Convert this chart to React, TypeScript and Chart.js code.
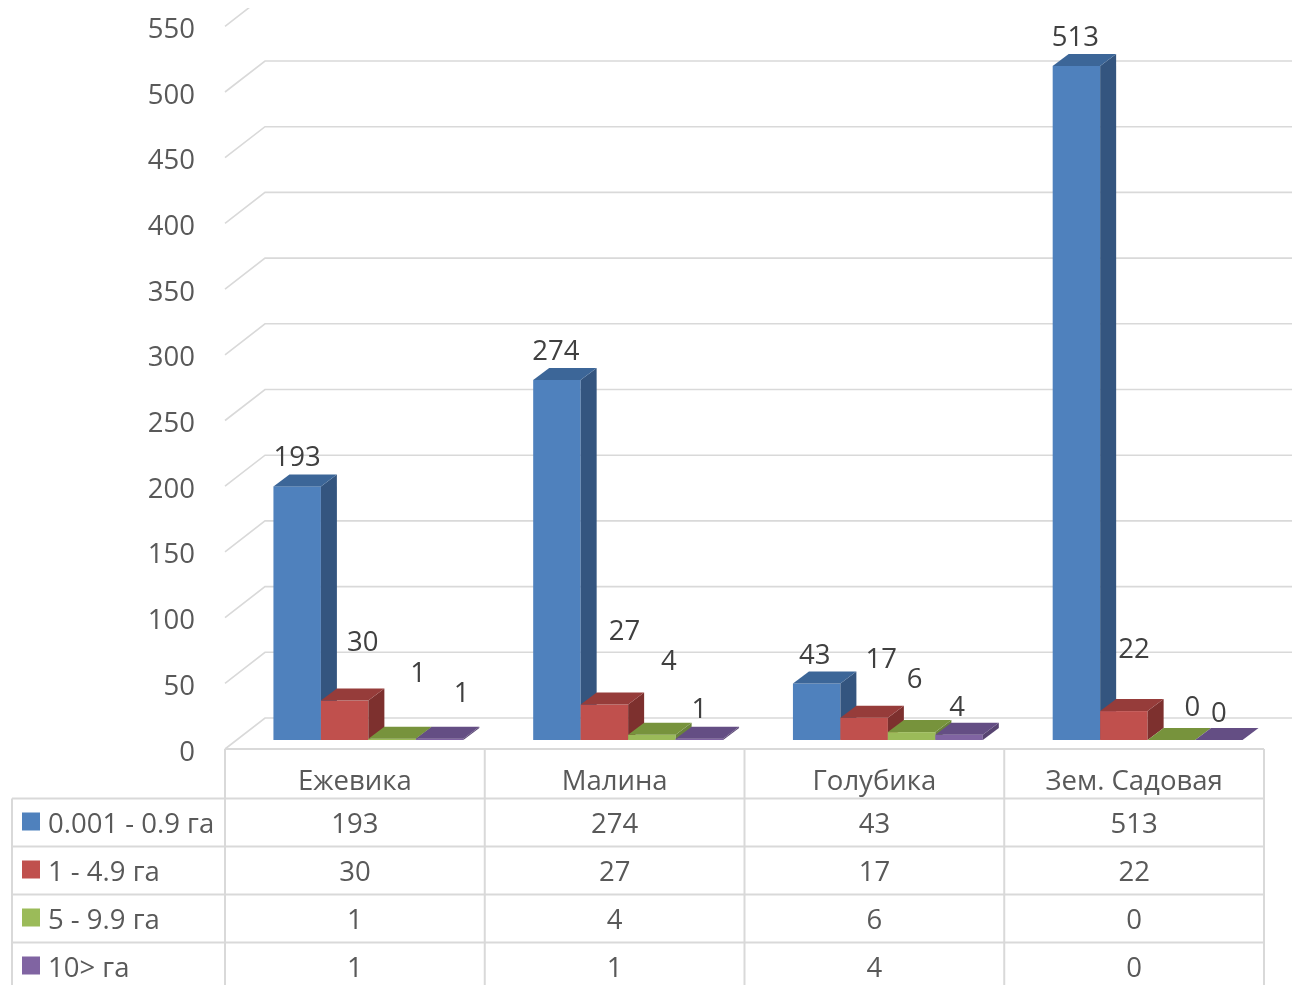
import React, { useEffect, useRef } from 'react';
import { Chart, registerables } from 'chart.js';

Chart.register(...registerables);

const categories = ['Ежевика', 'Малина', 'Голубика', 'Зем. Садовая'];
const seriesNames = ['0.001 - 0.9 га', '1 - 4.9 га', '5 - 9.9 га', '10> га'];
const seriesSmall = [193, 274, 43, 513];
const seriesMid = [30, 27, 17, 22];
const seriesLarge = [1, 4, 6, 0];
const seriesHuge = [1, 1, 4, 0];
const yTicks = [0, 50, 100, 150, 200, 250, 300, 350, 400, 450, 500, 550];

const frontColors = ['#4F81BD', '#C0504D', '#9BBB59', '#8064A2'];
const sideColors = ['#34557F', '#7D302E', '#6A833A', '#574471'];
const topColors = ['#3C6698', '#963C3A', '#77933C', '#644E84'];

// label nudges (px) relative to default anchor, per series / category
const labelNudge = [
  [[0, 0], [-1, 0], [-2, 1], [-1, 0]],
  [[18, -29], [20, -44], [17, -29], [10, -33]],
  [[26, -36], [17, -44], [3, -24], [21, -4]],
  [[22, -16], [0, 0], [-2, 2], [0, 2]],
];

const FONT = '27.5px "Open Sans"';
const WALL = { x: 40, y: -31 };
const BAR_SHIFT = { x: 13.5, y: -9 };
const BAR_DEPTH = { x: 16, y: -12 };

const threeD = {
  id: 'threeD',
  beforeDatasetsDraw(chart: any) {
    const ctx = chart.ctx as CanvasRenderingContext2D;
    const ys = chart.scales.y;
    const area = chart.chartArea;
    // gridlines (3D)
    ctx.save();
    ctx.beginPath();
    ctx.rect(0, 8, chart.width, chart.height);
    ctx.clip();
    ctx.strokeStyle = '#D9D9D9';
    ctx.lineWidth = 1.6;
    for (const v of yTicks) {
      const py = ys.getPixelForValue(v);
      ctx.beginPath();
      ctx.moveTo(area.left, py);
      ctx.lineTo(area.left + WALL.x, py + WALL.y);
      ctx.lineTo(chart.width + 20, py + WALL.y);
      ctx.stroke();
    }
    ctx.restore();

    // y tick labels
    ctx.save();
    ctx.font = FONT;
    ctx.fillStyle = '#595959';
    ctx.textAlign = 'right';
    ctx.textBaseline = 'alphabetic';
    for (const v of yTicks) {
      const py = ys.getPixelForValue(v);
      ctx.fillText(String(v), 195, py + 11.5);
    }
    ctx.restore();

    // bars
    const n = chart.data.datasets.length;
    for (let d = 0; d < n; d++) {
      const meta = chart.getDatasetMeta(d);
      meta.data.forEach((el: any) => {
        const p = el.getProps(['x', 'y', 'base', 'width'], true);
        const left = p.x - p.width / 2 + BAR_SHIFT.x;
        const right = left + p.width;
        const top = Math.min(p.y, p.base) + BAR_SHIFT.y;
        const bottom = Math.max(p.y, p.base) + BAR_SHIFT.y;
        ctx.fillStyle = frontColors[d];
        ctx.fillRect(left, top, p.width, bottom - top);
        ctx.fillStyle = sideColors[d];
        ctx.beginPath();
        ctx.moveTo(right, top);
        ctx.lineTo(right + BAR_DEPTH.x, top + BAR_DEPTH.y);
        ctx.lineTo(right + BAR_DEPTH.x, bottom + BAR_DEPTH.y);
        ctx.lineTo(right, bottom);
        ctx.closePath();
        ctx.fill();
        ctx.fillStyle = topColors[d];
        ctx.beginPath();
        ctx.moveTo(left, top);
        ctx.lineTo(right, top);
        ctx.lineTo(right + BAR_DEPTH.x, top + BAR_DEPTH.y);
        ctx.lineTo(left + BAR_DEPTH.x, top + BAR_DEPTH.y);
        ctx.closePath();
        ctx.fill();
      });
    }

    // data labels
    ctx.save();
    ctx.font = FONT;
    ctx.fillStyle = '#404040';
    ctx.textAlign = 'center';
    ctx.textBaseline = 'alphabetic';
    for (let d = 0; d < n; d++) {
      const meta = chart.getDatasetMeta(d);
      const vals = chart.data.datasets[d].data as number[];
      meta.data.forEach((el: any, i: number) => {
        const p = el.getProps(['x', 'y', 'base', 'width'], true);
        const cx = p.x + BAR_SHIFT.x + labelNudge[d][i][0];
        const cy = Math.min(p.y, p.base) + BAR_SHIFT.y - 30.2 + labelNudge[d][i][1];
        ctx.fillText(String(vals[i]), cx, cy + 9.8);
      });
    }
    ctx.restore();
    return false;
  },
  afterDraw(chart: any) {
    const ctx = chart.ctx as CanvasRenderingContext2D;
    const xs = chart.scales.x;
    const area = chart.chartArea;
    const catW = (area.right - area.left) / categories.length;
    const headTop = area.bottom;
    const headH = 49.5;
    const rowH = 48;
    const tableLeft = 12;
    ctx.save();
    ctx.strokeStyle = '#D9D9D9';
    ctx.lineWidth = 2;
    // horizontal lines
    ctx.beginPath();
    ctx.moveTo(area.left, headTop);
    ctx.lineTo(area.right, headTop);
    for (let r = 0; r < seriesNames.length; r++) {
      const y = headTop + headH + r * rowH;
      ctx.moveTo(tableLeft, y);
      ctx.lineTo(area.right, y);
    }
    // verticals
    ctx.moveTo(tableLeft, headTop + headH);
    ctx.lineTo(tableLeft, chart.height + 10);
    for (let k = 0; k <= categories.length; k++) {
      const x = area.left + k * catW;
      ctx.moveTo(x, headTop);
      ctx.lineTo(x, chart.height + 10);
    }
    ctx.stroke();

    ctx.font = FONT;
    ctx.fillStyle = '#595959';
    ctx.textAlign = 'center';
    ctx.textBaseline = 'alphabetic';
    categories.forEach((c, i) => {
      const x = xs.getPixelForValue(i);
      ctx.fillText(c, x, headTop + 41);
    });
    chart.data.datasets.forEach((ds: any, r: number) => {
      const rowTop = headTop + headH + r * rowH;
      (ds.data as number[]).forEach((v, i) => {
        const x = xs.getPixelForValue(i);
        ctx.fillText(String(v), x, rowTop + 34);
      });
      ctx.fillStyle = frontColors[r];
      ctx.fillRect(22, rowTop + 14, 18, 18);
      ctx.fillStyle = '#595959';
      ctx.textAlign = 'left';
      ctx.fillText(ds.label, 48, rowTop + 34);
      ctx.textAlign = 'center';
    });
    ctx.restore();
  },
};

export default function App() {
  const ref = useRef<HTMLCanvasElement>(null);
  useEffect(() => {
    const seriesData = [seriesSmall, seriesMid, seriesLarge, seriesHuge];
    const chart = new Chart(ref.current as HTMLCanvasElement, {
      type: 'bar',
      data: {
        labels: categories,
        datasets: seriesData.map((data, i) => ({
          label: seriesNames[i],
          data,
          backgroundColor: frontColors[i],
          borderWidth: 0,
          categoryPercentage: 0.731,
          barPercentage: 1,
        })),
      },
      options: {
        animation: false,
        responsive: false,
        devicePixelRatio: 1,
        layout: { padding: { left: 225, right: 28, top: 26.3, bottom: 236 } },
        plugins: { legend: { display: false }, tooltip: { enabled: false } },
        scales: {
          x: { type: 'category', display: false, offset: true },
          y: { type: 'linear', display: false, min: 0, max: 550, ticks: { stepSize: 50 } },
        },
      },
      plugins: [threeD],
    } as any);
    return () => chart.destroy();
  }, []);
  return (
    <div style={{ position: 'absolute', left: 0, top: 0, width: 1292, height: 985, background: '#fff', overflow: 'hidden' }}>
      <canvas ref={ref} width={1292} height={985} style={{ display: 'block', width: 1292, height: 985 }} />
    </div>
  );
}
